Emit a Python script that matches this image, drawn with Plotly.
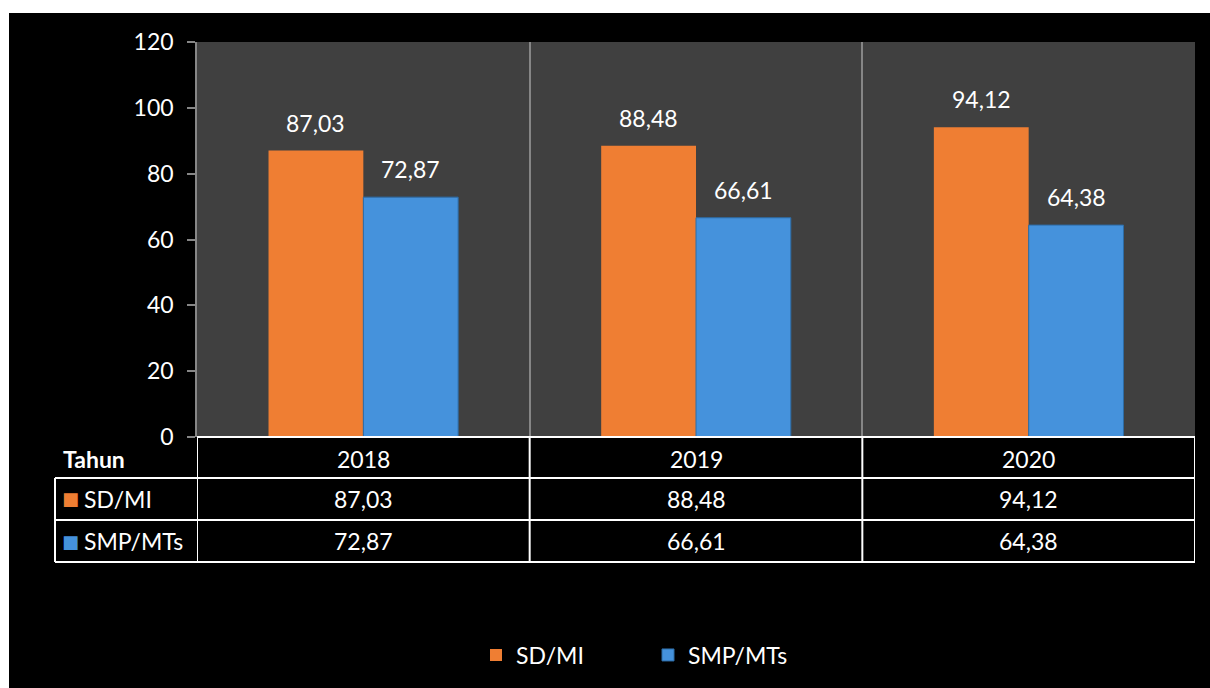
import plotly.graph_objects as go

years = ["2018", "2019", "2020"]
sd_mi = [87.03, 88.48, 94.12]
smp_mts = [72.87, 66.61, 64.38]
series_names = ["SD/MI", "SMP/MTs"]
y_ticks = [0, 20, 40, 60, 80, 100, 120]
table_header = "Tahun"

W, H = 1210, 688
FONT = "Lato"
FS = 23
ORANGE = "#EF7E33"
BLUE = "#4592DC"
BLUE_LINE = "#2D6CA6"
GRID = "#868686"


def fmt(v):
    return f"{v:.2f}".replace(".", ",")


def py(pix):  # pixel row -> paper fraction
    return 1 - pix / H


def px(pix):  # pixel column -> paper fraction
    return pix / W


fig = go.Figure()
fig.add_trace(go.Bar(x=years, y=sd_mi, name=series_names[0],
                     marker=dict(color=ORANGE, line=dict(width=0))))
fig.add_trace(go.Bar(x=years, y=smp_mts, name=series_names[1],
                     marker=dict(color=BLUE, line=dict(color=BLUE_LINE, width=1))))

txt = dict(family=FONT, size=FS, color="white")
annotations = []
shapes = []

# value labels above the bars
bw_half = 47.5
for i, y in enumerate(years):
    for vals, sh in ((sd_mi, -bw_half), (smp_mts, bw_half)):
        annotations.append(dict(x=i, y=vals[i], xref="x", yref="y", text=fmt(vals[i]),
                                showarrow=False, yanchor="bottom", yshift=12, xshift=sh,
                                font=txt))

# data table under the plot
ROW_TOP, ROW1, ROW2, ROW_BOT = 437, 478, 520, 562
row_centers = [(ROW_TOP + ROW1) / 2 + 1, (ROW1 + ROW2) / 2, (ROW2 + ROW_BOT) / 2]
annotations.append(dict(x=px(61), y=py(row_centers[0]), xref="paper", yref="paper",
                        xanchor="left", yanchor="middle", showarrow=False,
                        text="<b>%s</b>" % table_header, font=txt))
for i, y in enumerate(years):
    annotations.append(dict(x=i, y=py(row_centers[0]), xref="x", yref="paper",
                            yanchor="middle", showarrow=False, text=y, font=txt))
for r, (name, vals, col) in enumerate(((series_names[0], sd_mi, ORANGE),
                                        (series_names[1], smp_mts, BLUE))):
    yc = py(row_centers[r + 1])
    annotations.append(dict(x=px(70), y=yc, xref="paper", yref="paper", xanchor="center",
                            yanchor="middle", showarrow=False, text="■",
                            font=dict(family="DejaVu Sans", size=18, color=col)))
    annotations.append(dict(x=px(82), y=yc, xref="paper", yref="paper", xanchor="left",
                            yanchor="middle", showarrow=False, text=name, font=txt))
    for i in range(len(years)):
        annotations.append(dict(x=i, y=yc, xref="x", yref="paper", yanchor="middle",
                                showarrow=False, text=fmt(vals[i]), font=txt))

LINE = dict(color="white", width=2)
shapes.append(dict(type="line", xref="x", yref="paper", x0=-0.5, x1=len(years) - 0.5,
                   y0=py(ROW_TOP), y1=py(ROW_TOP), line=LINE))
for yy in (ROW1, ROW2, ROW_BOT):
    shapes.append(dict(type="line", xref="paper", yref="paper", x0=px(55), x1=px(1195),
                       y0=py(yy), y1=py(yy), line=LINE))
for k in range(len(years) + 1):
    shapes.append(dict(type="line", xref="x", yref="paper", x0=k - 0.5, x1=k - 0.5,
                       y0=py(ROW_TOP), y1=py(ROW_BOT), line=LINE))
shapes.append(dict(type="line", xref="paper", yref="paper", x0=px(55), x1=px(55),
                   y0=py(ROW1), y1=py(ROW_BOT), line=LINE))

# white page strip at top / left of the image
shapes.append(dict(type="rect", xref="paper", yref="paper", x0=0, x1=1, y0=py(13), y1=1,
                   fillcolor="white", line=dict(width=0), layer="below"))
shapes.append(dict(type="rect", xref="paper", yref="paper", x0=0, x1=px(9), y0=0, y1=1,
                   fillcolor="white", line=dict(width=0), layer="below"))

fig.update_layout(
    width=W, height=H,
    margin=dict(l=0, r=0, t=0, b=0, autoexpand=False),
    paper_bgcolor="black",
    plot_bgcolor="#404040",
    barmode="group", bargap=0.43, bargroupgap=0,
    font=txt,
    xaxis=dict(domain=[px(197), px(1195)], type="category", range=[-0.5, 2.5],
               showticklabels=False, tickson="boundaries", showgrid=True, gridcolor=GRID,
               gridwidth=1.5, ticks="", showline=False, zeroline=False, fixedrange=True,
               automargin=False),
    yaxis=dict(domain=[py(437), py(42)], range=[0, 120], tickvals=y_ticks,
               showline=True, linecolor=GRID, linewidth=1.5, ticks="outside",
               ticklen=8, tickcolor=GRID, tickwidth=1.5, showgrid=False, zeroline=False,
               ticklabelstandoff=9, automargin=False, fixedrange=True,
               tickfont=txt),
    legend=dict(orientation="h", x=px(476), xanchor="left", y=py(655), yanchor="middle",
                font=txt, entrywidth=127, bgcolor="rgba(0,0,0,0)"),
    annotations=annotations,
    shapes=shapes,
)

fig.write_html("out.html", config={"displayModeBar": False},
               post_script="document.body.style.margin='0';document.body.style.overflow='hidden';")
